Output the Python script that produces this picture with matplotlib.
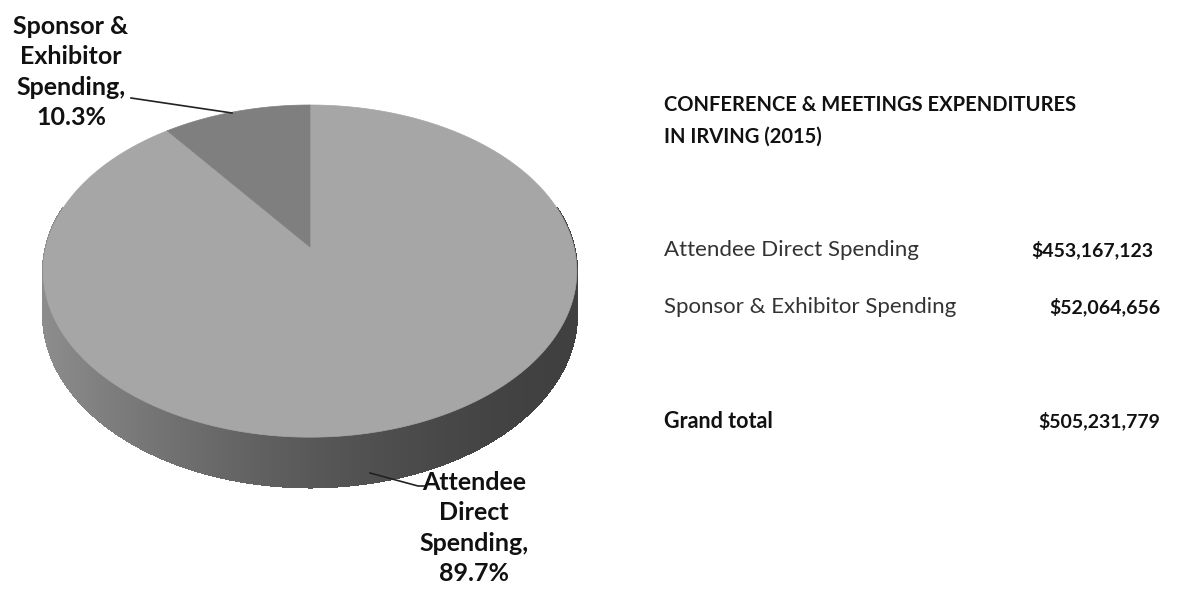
import numpy as np
import matplotlib.pyplot as plt
from matplotlib.collections import PolyCollection
from matplotlib.patches import Polygon

# --- data ---
categories = ["Attendee Direct Spending", "Sponsor & Exhibitor Spending"]
amounts = [453167123, 52064656]
grand_total = 505231779
pie_labels = ["Attendee\nDirect\nSpending,\n89.7%", "Sponsor &\nExhibitor\nSpending,\n10.3%"]
top_colors = ["#a6a6a6", "#7f7f7f"]

title = "CONFERENCE & MEETINGS EXPENDITURES\nIN IRVING (2015)"

# --- 3D pie geometry (pixel units) ---
cx, cy = 310, 247      # apex of the pie top
R, Ry = 264, 162.6     # horizontal radius / foreshortened radius
k = 0.145              # perspective factor
depth = 42.8           # thickness


def proj(theta, d=0.0):
    s = 1 + k * np.sin(theta)
    x = cx + R * np.cos(theta) / s
    y = cy - Ry * np.sin(theta) / s + d / s
    return x, y


fig = plt.figure(figsize=(11.93, 5.90), dpi=100)
ax = fig.add_axes([0, 0, 1, 1])
ax.set_xlim(0, 1193)
ax.set_ylim(590, 0)
ax.axis("off")

# side of the cylinder, shaded light (left) to dark (right)
th = np.linspace(np.pi - 0.25, 2 * np.pi + 0.25, 300)
quads, cols = [], []
for a, b in zip(th[:-1], th[1:]):
    x1, y1 = proj(a)
    x2, y2 = proj(b)
    x3, y3 = proj(b, depth)
    x4, y4 = proj(a, depth)
    quads.append([(x1, y1), (x2, y2), (x3, y3), (x4, y4)])
    t = np.clip((0.5 * (x1 + x2) - (cx - R)) / (2 * R), 0, 1)
    g = 0.25 + 0.30 * (1 - t) ** 1.6
    cols.append((g, g, g))
ax.add_collection(PolyCollection(quads, facecolors=cols, edgecolors=cols,
                                 linewidths=1.0, antialiaseds=False))

# top slices, starting at 12 o'clock, clockwise
fracs = np.array(amounts) / np.sum(amounts)
start = np.pi / 2
for f, c in zip(fracs, top_colors):
    end = start - 2 * np.pi * f
    t = np.linspace(start, end, 300)
    xs, ys = proj(t)
    pts = [(cx, cy)] + list(zip(xs, ys))
    ax.add_patch(Polygon(pts, closed=True, facecolor=c, edgecolor=c, linewidth=0.5))
    start = end

# data labels with leader lines
lab_font = dict(family=["Lato", "DejaVu Sans"], fontsize=18, fontweight="bold",
                color="#111111", ha="center", va="center", linespacing=1.38)
ax.text(71, 72, pie_labels[1], **lab_font)
ax.plot([131, 232], [98, 113], color="#222222", lw=1.2)
ax.text(474, 528, pie_labels[0], **lab_font)
ax.plot([370, 418, 426], [473, 486, 486], color="#222222", lw=1.2)

# right-hand table
ax.text(664, 121, title, fontsize=14.5, fontweight="bold", family=["Lato", "DejaVu Sans"],
        color="#111111", ha="left", va="center", linespacing=1.75)

row_y = [250, 307]
row_right = [1153, 1160]
for name, val, y, xr in zip(categories, amounts, row_y, row_right):
    ax.text(664, y, name, fontsize=16, family=["Lato", "DejaVu Sans"],
            color="#333333", ha="left", va="center")
    ax.text(xr, y, "${:,}".format(val), fontsize=14, fontweight="bold",
            family=["Lato", "DejaVu Sans"], color="#111111", ha="right", va="center")

ax.text(664, 421, "Grand total", fontsize=15.5, fontweight="bold",
        family=["Lato", "DejaVu Sans"], color="#111111", ha="left", va="center")
ax.text(1160, 421, "${:,}".format(grand_total), fontsize=14, fontweight="bold",
        family=["Lato", "DejaVu Sans"], color="#111111", ha="right", va="center")

fig.savefig("out.png", dpi=100)
